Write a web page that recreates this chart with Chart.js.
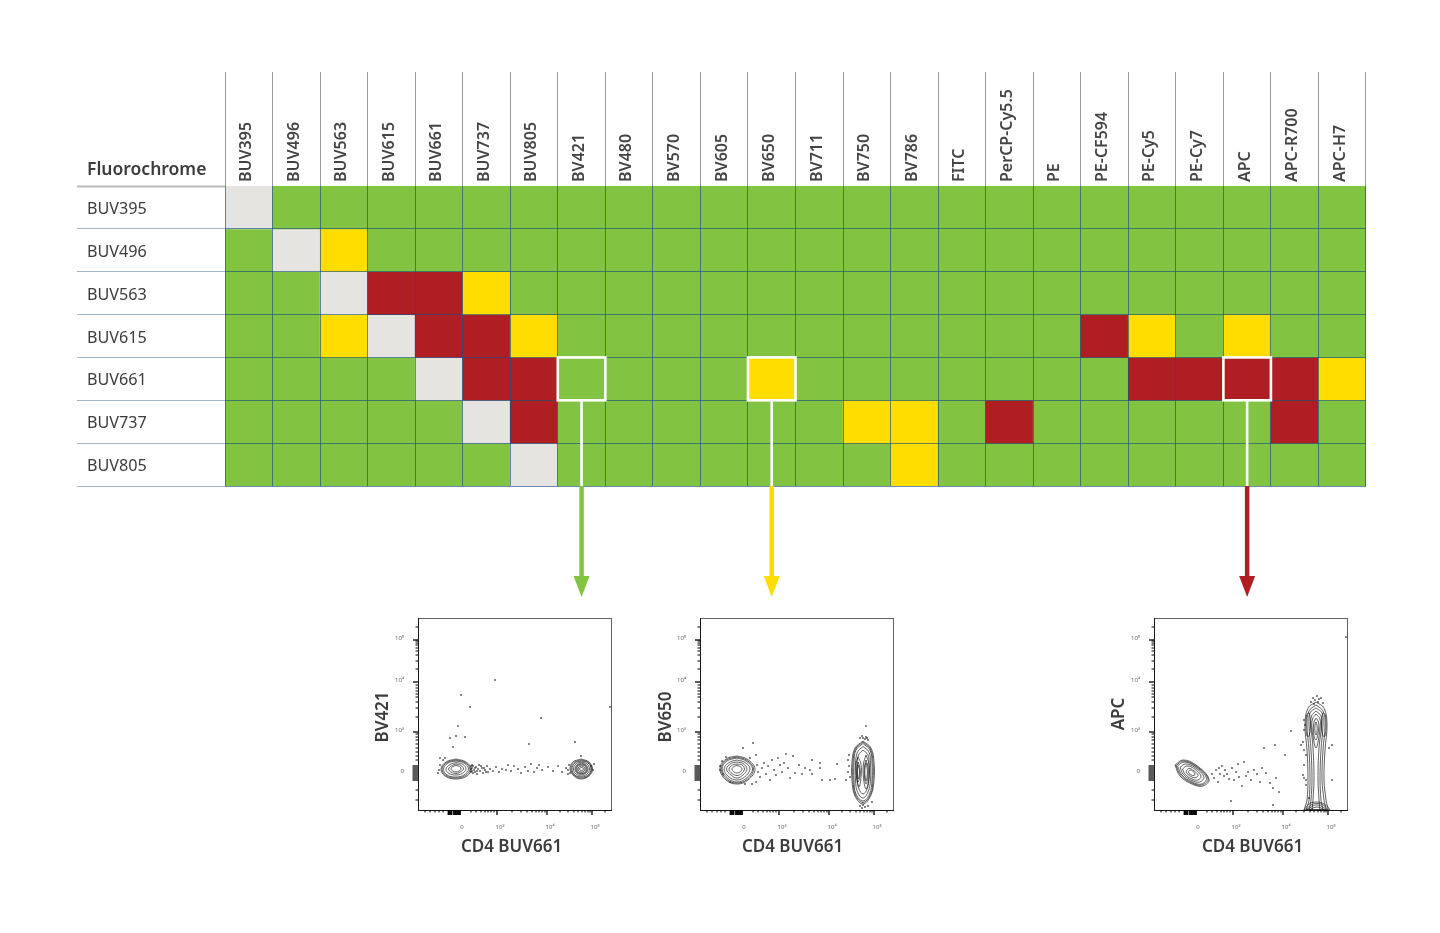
<!DOCTYPE html>
<html>
<head>
<meta charset="utf-8">
<title>Fluorochrome spread matrix</title>
<script src="https://cdn.jsdelivr.net/npm/chart.js@4"></script>
<style>
  html, body { margin: 0; background: #fff; }
  #page { position: relative; width: 1440px; height: 933px; overflow: hidden; }
  canvas { position: absolute; }
</style>
</head>
<body>
<div id="page">
  <canvas id="matrix" width="1440" height="933" style="left:0;top:0"></canvas>
  <canvas id="plotBV421" width="270" height="260" style="left:358px;top:600px"></canvas>
  <canvas id="plotBV650" width="270" height="260" style="left:640px;top:600px"></canvas>
  <canvas id="plotAPC" width="270" height="260" style="left:1094px;top:600px"></canvas>
</div>
<script>
const columns = ['BUV395','BUV496','BUV563','BUV615','BUV661','BUV737','BUV805','BV421','BV480','BV570','BV605','BV650','BV711','BV750','BV786','FITC','PerCP-Cy5.5','PE','PE-CF594','PE-Cy5','PE-Cy7','APC','APC-R700','APC-H7'];
const rows = ['BUV395','BUV496','BUV563','BUV615','BUV661','BUV737','BUV805'];

// 0 self, 1 low, 2 medium, 3 high
const spreadBUV395 = [0,1,1,1,1,1,1,1,1,1,1,1,1,1,1,1,1,1,1,1,1,1,1,1];
const spreadBUV496 = [1,0,2,1,1,1,1,1,1,1,1,1,1,1,1,1,1,1,1,1,1,1,1,1];
const spreadBUV563 = [1,1,0,3,3,2,1,1,1,1,1,1,1,1,1,1,1,1,1,1,1,1,1,1];
const spreadBUV615 = [1,1,2,0,3,3,2,1,1,1,1,1,1,1,1,1,1,1,3,2,1,2,1,1];
const spreadBUV661 = [1,1,1,1,0,3,3,1,1,1,1,2,1,1,1,1,1,1,1,3,3,3,3,2];
const spreadBUV737 = [1,1,1,1,1,0,3,1,1,1,1,1,1,2,2,1,3,1,1,1,1,1,3,1];
const spreadBUV805 = [1,1,1,1,1,1,0,1,1,1,1,1,1,1,2,1,1,1,1,1,1,1,1,1];
const spreadRows = [spreadBUV395, spreadBUV496, spreadBUV563, spreadBUV615, spreadBUV661, spreadBUV737, spreadBUV805];
const spreadColors = ['#E5E4E1', '#82C341', '#FFDD00', '#AF1E23'];

const callouts = [
  { row: 'BUV661', col: 'BV421', color: '#82C341' },
  { row: 'BUV661', col: 'BV650', color: '#FFDD00' },
  { row: 'BUV661', col: 'APC', color: '#AF1E23' }
];

// flow plot axes, in display channels
const xTickChannels = [41, 79, 129, 174];
const yTickChannels = [37, 78, 128, 170];
const tickLabels = ['0', '10³', '10⁴', '10⁵'];
const xMinor = [7,12,17,21,25,53,58,63,67,70,73,76,94,103,109,114,118,121,124,127,142,150,156,160,164,167,170,172,187];
const yMinor = [10,20,50,54,58,62,66,70,73,76,93,102,108,113,116,119,122,125,141,149,155,159,162,165,167,169,183];
const xDense = [30.5,32,33.5,36,37.5,39,40.5,42];
const yDense = [30,32,34,36,38,40,42,44];

// contour rings, x,y pairs in channels
const ringsBV421 = [
  [38,51, 48,48, 53,41, 49,34, 38,31, 27,34, 23,41, 28,48],
  [38,50, 47,47.5, 52,41, 47.5,34.5, 38,32, 28,34.5, 24,41, 29,47.5],
  [38,49, 46,47, 50.5,41, 46,35, 38,33, 29,35, 25.5,41, 30,47],
  [38,47.5, 45,45.5, 48,41, 44,36.5, 38,35, 31,36.5, 28,41, 32,45.5],
  [38,46, 43,44.5, 45.5,41, 42,38, 38,36.5, 33,38, 30.5,41, 34,44.5],
  [38,44.5, 41.5,43.5, 43,41, 41,39, 38,38, 35,39, 33,41, 35,43.5],
  [163,51, 171,48, 174.5,41, 171,34, 163,31, 156,34, 152,41, 155,48],
  [163.5,50, 170.5,47.5, 173.5,41, 170.5,34.5, 163.5,32, 156.5,34.5, 153,41, 156,47.5],
  [163.5,49, 170,47, 173,41, 170,35, 163.5,33, 157,35, 154,41, 157,47],
  [163.5,48, 169,46, 171.5,41, 169,36, 163.5,34, 158,36, 155.5,41, 158,46],
  [163.5,47, 168,45, 170,41, 168,37, 163.5,35.5, 159,37, 157,41, 159,45],
  [163.5,46, 167.5,44.5, 169,41, 167.5,37.5, 163.5,36.5, 159.5,37.5, 158,41, 159.5,44.5],
  [163.5,45, 167,44, 168,41, 167,38, 163.5,37, 160,38, 159,41, 160,44],
  [163.5,44, 166,43, 167,41, 166,39, 163.5,38, 161,39, 160,41, 161,43],
  [163.5,42.5, 165,42, 165.5,41, 165,40, 163.5,39.5, 162,40, 161.5,41, 162,42]
];
const ringsBV650 = [
  [37,54, 47,51, 55,41, 48,30, 37,26, 26,30, 20,41, 26,51],
  [37,53, 46.5,50, 53.5,41, 47,30.5, 37,27, 27,30.5, 21,41, 26.5,50],
  [37,52, 46,49, 52.5,41, 46,31.5, 37,28, 28,31.5, 22,41, 27,49],
  [37,50, 45,47.5, 50,41, 44.5,33, 37,30, 29,33, 24,41, 29,47.5],
  [37,48, 43,46.5, 47,41, 43,35, 37,32, 31,35, 26.5,41, 31,46.5],
  [37,46, 42,45, 44.5,41, 41.5,36.5, 37,34.5, 32,36.5, 29,41, 32.5,45],
  [37,44.5, 40,43.5, 42,41, 40,38, 37,37, 34,38, 32,41, 34,43.5],
  [163,69, 171,62, 174,48, 174,30, 171,15, 163,6, 155,14, 152,30, 152,48, 155,62],
  [163,68, 170.5,61, 173,47.5, 173,30, 170.5,15.5, 163,7.5, 155.5,15, 153,30, 153,47.5, 155.5,61],
  [163,66.5, 170,60, 172,47, 172,30, 169.5,16, 163,9, 156,16, 154,30, 154,47, 156,60],
  [163,63.5, 169,58, 170.5,46, 170.5,30, 168,18, 163,12, 157.5,18, 155.5,30, 155.5,46, 157.5,58],
  [163,60, 168,55, 169,45, 169,32, 167,21, 163,16, 159,21, 157,32, 157,45, 158.5,55],
  [158,53, 161,46, 161,33, 159,23, 156.5,33, 156,46],
  [166,55, 169,46, 169,32, 166,21, 163.5,32, 163.5,46],
  [158,48, 160,42, 160,34, 158,28, 157,34, 157,42],
  [158,45, 159.3,41, 159.3,35, 158,31, 157.5,35, 157.5,41],
  [166,50, 168,43, 168,33, 166,26, 164.5,33, 164.5,43],
  [166,47, 167.2,42, 167.2,34, 166,29, 165,34, 165,42]
];
const ringsAPC = [
  [21,45, 29,50, 42,45, 55,31, 49,24, 38,26, 26,34],
  [22,44.5, 29.5,49, 42,44, 54,31.5, 48,25, 38,27, 27,34.5],
  [23.5,44, 30,48, 41.5,43.5, 52.5,32, 47.5,26, 38,28, 28,35],
  [26,42.5, 31.5,46, 41,42.5, 50,33, 45.5,28, 38,29.5, 29.5,35.5],
  [28.5,41, 33,44, 40,41.5, 47,34, 44,30, 38,31, 31,36],
  [32,39, 35,41.5, 39.5,39.5, 44,35, 42,32.5, 38,33, 33,36.5],
  [34.5,38.5, 36.5,40, 39,38.5, 41,36, 40,34.5, 37.5,35, 35,36.5],
  [162,108, 170,102, 173,85, 171,60, 170,30, 172,10, 173,-3, 151,-3, 153,10, 154,30, 153,60, 151,85, 154,102],
  [162,105, 169,99, 171,85, 169,60, 168,30, 170,10, 171,-3, 153,-3, 155,10, 156,30, 155,60, 153,85, 155,99],
  [162,102, 168,97, 169,85, 167,60, 166,30, 167,10, 168,-3, 156,-3, 157,10, 158,30, 157,60, 155,85, 156,97],
  [162,99, 167,94, 167.5,84, 165,62, 164,30, 165,10, 165,-3, 159,-3, 159,10, 160,30, 159,62, 157,84, 157.5,94],
  [162,96, 166,91, 166,82, 164,68, 162,62, 160,68, 158,82, 158.5,91],
  [152.5,95, 155,97, 156.5,85, 155,74, 153,74, 152,85],
  [171.5,95, 169,97, 167.5,85, 169,74, 171,74, 172,85],
  [162,92, 164.5,88, 164.5,80, 163,72, 162,70, 160.5,72, 159.5,80, 160,88],
  [162,88, 163,85, 163,78, 162,75, 161,78, 161,85],
  [150,0, 155,6, 162,8, 170,6, 175,0],
  [152,0, 157,5, 163,6.5, 169,5, 173,0],
  [153,0, 158,3.5, 163,5, 168,3.5, 172,0],
  [155,0, 159,2, 163,3, 167,2, 170,0]
];

// single events outside the contours
const dotsBV421 = [[77,130],[43,115],[52,103],[123,92],[40,84],[192,103],[47,73],[38,74],[32,72],[35,63],[111,66],[157,68],[163,54],
  [55,44],[56,40],[57,38],[58,43],[59,36],[60,41],[61,45],[62,39],[64,42],[65,37],[67,40],[69,44],[70,38],[72,41],[75,39],[78,43],[81,38],[84,41],[88,40],[90,45],[93,39],[96,44],[100,41],[103,37],[107,43],[110,39],[113,46],[116,38],[119,42],[121,45],[124,40],[130,43],[135,39],[140,44],[144,38],[148,42],[151,45],[150,36],
  [22,45],[21,40],[20,37],[25,50],[27,52],[22,52],[173,44],[175,40],[176,46],[150,40],[152,37],[54,42],[54,39],[54,45],[55,37],[53,41],[53,38],[53,44],[57,42],[59,39],[63,44],[66,42],[68,38]];
const dotsBV650 = [[53,67],[43,62],[166,84],[160,72],[163,72],[165,71],[167,72],[162,74],[168,70],[166,73],[160,4],[163,5],[165,3],[168,4],[162,2],[172,8],
  [20,44],[22,49],[26,53],[20,40],[23,36],[30,28],[45,26],[52,26],[56,28],[56,55],[50,52],[57,45],[58,38],[60,33],[62,42],[64,47],[66,36],[68,44],[70,30],[72,50],[74,40],[76,35],[78,52],[80,45],[82,38],[84,47],[86,56],[88,42],[90,32],[93,54],[95,37],[99,45],[102,36],[105,42],[110,40],[112,36],[120,42],[112,50],[120,47],[135,31],[137,46],[122,30],[130,30],[148,50],[149,44],[148,38],[150,33],[149,55],[146,30]];
const dotsAPC = [[192,173],[157,108],[159,112],[161,110],[163,114],[165,111],[167,112],[169,107],[160,106],[164,108],[150,90],[151,85],[150,80],[149,68],[150,60],[152,55],[149,35],[150,32],[152,30],[175,62],[178,65],[137,79],[147,65],[131,55],[119,5],[77,9],[121,65],[110,62],
  [58,36],[60,32],[62,40],[64,28],[65,42],[66,36],[68,44],[70,34],[71,40],[73,36],[75,31],[78,42],[80,30],[82,38],[84,46],[85,33],[88,24],[90,48],[92,34],[94,38],[97,30],[100,40],[103,36],[106,28],[108,42],[112,37],[116,27],[119,22],[122,32],[125,18],[150,45],[152,25],[155,12],[178,30]];

const plotSpecs = [
  { id: 'plotBV421', title: 'BV421', rings: ringsBV421, dots: dotsBV421 },
  { id: 'plotBV650', title: 'BV650', rings: ringsBV650, dots: dotsBV650 },
  { id: 'plotAPC', title: 'APC', rings: ringsAPC, dots: dotsAPC }
];

// the axis titles do not sit quite centred in the original
const titleNudge = {
  plotBV421: { x: -3, y: 3, left: 25 },
  plotBV650: { x: -4, y: 3, left: 26 },
  plotAPC: { x: 2, y: 0, left: 25 }
};

const FONT = '"Noto Sans", sans-serif';
const TEXT = '#3c3c3c';
const GRID = 'rgba(25,80,130,0.65)';

const matrixExtras = {
  id: 'matrixExtras',
  afterDraw(chart) {
    const { ctx, chartArea, scales } = chart;
    const colW = scales.x.width / columns.length;
    const rowH = scales.y.height / rows.length;
    ctx.save();
    ctx.fillStyle = TEXT;
    ctx.font = '600 17.5px ' + FONT;
    ctx.textAlign = 'left';
    ctx.textBaseline = 'alphabetic';
    ctx.fillText('Fluorochrome', 87, 175);
    callouts.forEach(c => {
      const cx = scales.x.getPixelForValue(columns.indexOf(c.col));
      const cy = scales.y.getPixelForValue(rows.indexOf(c.row));
      const bottom = cy + rowH / 2;
      ctx.strokeStyle = '#fff';
      ctx.lineWidth = 2.6;
      ctx.strokeRect(cx - colW / 2, cy - rowH / 2, colW, rowH);
      ctx.beginPath();
      ctx.moveTo(cx, bottom);
      ctx.lineTo(cx, chartArea.bottom);
      ctx.stroke();
      ctx.strokeStyle = c.color;
      ctx.lineWidth = 4.5;
      ctx.beginPath();
      ctx.moveTo(cx, chartArea.bottom);
      ctx.lineTo(cx, chartArea.bottom + 92);
      ctx.stroke();
      ctx.fillStyle = c.color;
      ctx.beginPath();
      ctx.moveTo(cx - 8, chartArea.bottom + 90);
      ctx.lineTo(cx + 8, chartArea.bottom + 90);
      ctx.lineTo(cx, chartArea.bottom + 111);
      ctx.closePath();
      ctx.fill();
    });
    ctx.restore();
  }
};

new Chart(document.getElementById('matrix'), {
  type: 'bar',
  data: {
    labels: columns,
    datasets: spreadRows.map((vals, i) => ({
      label: rows[i],
      data: vals.map(() => 1),
      backgroundColor: vals.map(v => spreadColors[v]),
      yAxisID: 'yv',
      barPercentage: 1,
      categoryPercentage: 1,
      borderWidth: 0
    }))
  },
  options: {
    responsive: false,
    animation: false,
    layout: { padding: { left: 87, right: 74, bottom: 447, top: 0 } },
    plugins: { legend: { display: false }, tooltip: { enabled: false } },
    scales: {
      x: {
        position: 'top',
        stacked: true,
        offset: true,
        afterFit(s) { s.height = 186; },
        grid: {
          offset: true, z: 1, color: GRID, tickLength: 114,
          tickColor: ctx => ctx.index === columns.length ? '#c4c4c4' : '#9a9a9a',
          tickWidth: ctx => ctx.index === columns.length ? 2 : 1
        },
        border: { display: false },
        ticks: {
          autoSkip: false, minRotation: 90, maxRotation: 90, padding: -110, labelOffset: 17,
          color: '#444', font: { family: FONT, size: 16, weight: '600' }
        }
      },
      y: {
        type: 'category',
        labels: rows,
        offset: true,
        afterFit(s) { s.width = 138; },
        grid: {
          offset: true, z: 1, tickLength: 148,
          color: ctx => ctx.index === 0 ? 'rgba(0,0,0,0)' : GRID,
          tickColor: ctx => ctx.index === 0 ? '#b9b9b9' : '#a6b6c6',
          tickWidth: ctx => ctx.index === 0 ? 2 : 1
        },
        border: { display: false },
        ticks: { crossAlign: 'far', autoSkip: false, labelOffset: 2, color: TEXT, font: { family: FONT, size: 16.2 } }
      },
      yv: { type: 'linear', display: false, stacked: true, reverse: true, min: 0, max: 7 }
    }
  },
  plugins: [matrixExtras]
});

const plotFrame = {
  id: 'plotFrame',
  afterDraw(chart) {
    const { ctx, chartArea: a, scales: { x, y } } = chart;
    ctx.save();
    ctx.strokeStyle = '#222';
    ctx.lineWidth = 0.7;
    ctx.strokeRect(a.left + 0.5, a.top + 0.5, a.right - a.left, a.bottom - a.top);
    const xMark = (v, len, w) => {
      const p = x.getPixelForValue(v);
      ctx.lineWidth = w;
      ctx.beginPath(); ctx.moveTo(p, a.bottom); ctx.lineTo(p, a.bottom + len); ctx.stroke();
    };
    const yMark = (v, len, w) => {
      const p = y.getPixelForValue(v);
      ctx.lineWidth = w;
      ctx.beginPath(); ctx.moveTo(a.left, p); ctx.lineTo(a.left - len, p); ctx.stroke();
    };
    ctx.strokeStyle = '#000';
    xMinor.forEach(v => xMark(v, 2.5, 1));
    yMinor.forEach(v => yMark(v, 2.5, 1));
    xTickChannels.slice(1).forEach(v => xMark(v, 5, 1.3));
    yTickChannels.slice(1).forEach(v => yMark(v, 5, 1.3));
    xDense.forEach(v => xMark(v, 5, 1.8));
    yDense.forEach(v => yMark(v, 5.5, 1.3));

    const nudge = titleNudge[chart.canvas.id];
    ctx.fillStyle = TEXT;
    ctx.font = '600 17px ' + FONT;
    ctx.textAlign = 'center';
    ctx.textBaseline = 'middle';
    ctx.fillText('CD4 BUV661', (a.left + a.right) / 2 + nudge.x, 247);
    ctx.translate(nudge.left, (a.top + a.bottom) / 2 + nudge.y);
    ctx.rotate(-Math.PI / 2);
    ctx.fillText(chart.options.plotTitle, 0, 0);
    ctx.restore();
  }
};

function ringPoints(flat) {
  const pts = [];
  for (let i = 0; i < flat.length; i += 2) pts.push({ x: flat[i], y: flat[i + 1] });
  pts.push(pts[0]);
  return pts;
}

plotSpecs.forEach(spec => {
  const datasets = spec.rings.map(r => ({
    data: ringPoints(r),
    showLine: true,
    tension: 0.4,
    pointRadius: 0,
    borderColor: 'rgba(30,30,30,0.7)',
    borderWidth: 1
  }));
  datasets.push({
    data: spec.dots.map(d => ({ x: d[0], y: d[1] })),
    showLine: false,
    pointStyle: 'rect',
    pointRadius: 0.9,
    backgroundColor: '#000',
    borderWidth: 0
  });
  new Chart(document.getElementById(spec.id), {
    type: 'scatter',
    data: { datasets },
    options: {
      plotTitle: spec.title,
      responsive: false,
      animation: false,
      layout: { padding: { left: 0, right: 17, top: 18, bottom: 0 } },
      plugins: { legend: { display: false }, tooltip: { enabled: false } },
      scales: {
        x: {
          type: 'linear', min: 0, max: 193,
          afterFit(s) { s.height = 50; },
          afterBuildTicks(s) { s.ticks = xTickChannels.map(v => ({ value: v })); },
          grid: { display: false },
          border: { color: '#000', width: 1 },
          ticks: {
            autoSkip: false, maxRotation: 0, padding: 6, labelOffset: 3, color: '#666',
            font: { family: FONT, size: 6 },
            callback: v => tickLabels[xTickChannels.indexOf(v)]
          }
        },
        y: {
          type: 'linear', min: 0, max: 192,
          afterFit(s) { s.width = 60; },
          afterBuildTicks(s) { s.ticks = yTickChannels.map(v => ({ value: v })); },
          grid: { display: false },
          border: { color: '#000', width: 1 },
          ticks: {
            autoSkip: false, padding: 6, labelOffset: -2, color: '#666',
            font: { family: FONT, size: 6 },
            callback: v => tickLabels[yTickChannels.indexOf(v)]
          }
        }
      }
    },
    plugins: [plotFrame]
  });
});
</script>
</body>
</html>
